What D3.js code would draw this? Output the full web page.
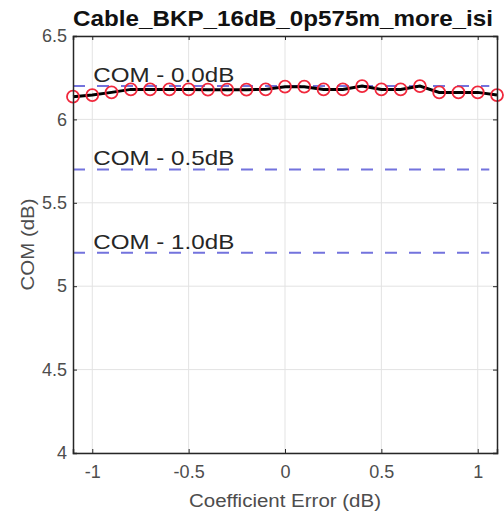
<!DOCTYPE html>
<html>
<head>
<meta charset="utf-8">
<script src="https://cdn.jsdelivr.net/npm/d3@7"></script>
<style>
  body { margin: 0; background: #fff; }
  svg text { font-family: "Liberation Sans", Arial, sans-serif; }
</style>
</head>
<body>
<svg id="chart" width="504" height="516"></svg>
<script>
// Data
const coefError = [-1.1, -1.0, -0.9, -0.8, -0.7, -0.6, -0.5, -0.4, -0.3, -0.2, -0.1,
    0, 0.1, 0.2, 0.3, 0.4, 0.5, 0.6, 0.7, 0.8, 0.9, 1.0, 1.1];
const comValues = [6.136, 6.146, 6.162, 6.18, 6.18, 6.18, 6.18, 6.178, 6.178, 6.178, 6.18,
    6.196, 6.196, 6.18, 6.18, 6.2, 6.18, 6.18, 6.2, 6.162, 6.162, 6.162, 6.146];
const refLevels = [6.2, 5.7, 5.2];
const refLabels = ['COM - 0.0dB', 'COM - 0.5dB', 'COM - 1.0dB'];
const xTicks = [-1, -0.5, 0, 0.5, 1];
const yTicks = [4, 4.5, 5, 5.5, 6, 6.5];

const margin = { left: 73, right: 7, top: 36, bottom: 63 };
const width = 504, height = 516;

const svg = d3.select('#chart');

const x = d3.scaleLinear().domain([-1.1, 1.1]).range([margin.left, width - margin.right]);
const y = d3.scaleLinear().domain([4, 6.5]).range([height - margin.bottom, margin.top]);

// plain hyphen instead of unicode minus, like the original
const fmt = d => String(d);

// Grid
const grid = svg.append('g');
grid.selectAll('line.gx').data(xTicks).join('line')
    .attr('x1', d => x(d)).attr('x2', d => x(d))
    .attr('y1', y(4)).attr('y2', y(6.5))
    .attr('stroke', '#e3e3e3').attr('stroke-width', 1);
grid.selectAll('line.gy').data(yTicks).join('line')
    .attr('y1', d => y(d)).attr('y2', d => y(d))
    .attr('x1', x(-1.1)).attr('x2', x(1.1))
    .attr('stroke', '#e3e3e3').attr('stroke-width', 1);

// Reference dashed lines
svg.append('g').selectAll('line').data(refLevels).join('line')
    .attr('x1', x(-1.1)).attr('x2', x(1.06))
    .attr('y1', d => y(d)).attr('y2', d => y(d))
    .attr('stroke', '#7373dd').attr('stroke-width', 2)
    .attr('stroke-dasharray', '12,12');

svg.append('g').selectAll('text').data(refLevels).join('text')
    .attr('x', x(-1.0) + 1)
    .attr('y', d => y(d) - 4)
    .attr('font-size', 21)
    .attr('textLength', 141)
    .attr('lengthAdjust', 'spacingAndGlyphs')
    .attr('fill', '#262626')
    .text((d, i) => refLabels[i]);

// Data line and markers
const pts = coefError.map((c, i) => [c, comValues[i]]);
svg.append('path')
    .datum(pts)
    .attr('d', d3.line().x(d => x(d[0])).y(d => y(d[1])))
    .attr('fill', 'none').attr('stroke', '#000').attr('stroke-width', 3);

svg.append('g').selectAll('circle').data(pts).join('circle')
    .attr('cx', d => x(d[0])).attr('cy', d => y(d[1]))
    .attr('r', 6)
    .attr('fill', 'none').attr('stroke', '#f0283c').attr('stroke-width', 1.8);

// Axes
const axisColor = '#262626';
const xAxis = svg.append('g')
    .attr('transform', `translate(0,${y(4)})`)
    .call(d3.axisBottom(x).tickValues(xTicks).tickSize(-4).tickPadding(12).tickFormat(fmt));
const xTop = svg.append('g')
    .attr('transform', `translate(0,${y(6.5)})`)
    .call(d3.axisTop(x).tickValues(xTicks).tickSize(-4).tickFormat(''));
const yAxis = svg.append('g')
    .attr('transform', `translate(${x(-1.1)},0)`)
    .call(d3.axisLeft(y).tickValues(yTicks).tickSize(-4).tickPadding(6).tickFormat(fmt));
const yRight = svg.append('g')
    .attr('transform', `translate(${x(1.1)},0)`)
    .call(d3.axisRight(y).tickValues(yTicks).tickSize(-4).tickFormat(''));

[xAxis, xTop, yAxis, yRight].forEach(a => {
    a.select('.domain').attr('stroke', axisColor).attr('stroke-width', 1.5);
    a.selectAll('.tick line').attr('stroke', axisColor);
    a.selectAll('.tick text').attr('fill', '#4d4d4d').attr('font-size', 18)
        .attr('font-family', '"Liberation Sans", Arial, sans-serif');
});

// Title and labels
svg.append('text')
    .attr('x', (x(-1.1) + x(1.1)) / 2 - 2).attr('y', 26)
    .attr('text-anchor', 'middle')
    .attr('font-size', 22).attr('font-weight', 'bold').attr('fill', '#111')
    .attr('textLength', 420)
    .attr('lengthAdjust', 'spacingAndGlyphs')
    .text('Cable_BKP_16dB_0p575m_more_isi');

svg.append('text')
    .attr('x', x(0)).attr('y', 507)
    .attr('text-anchor', 'middle')
    .attr('font-size', 18).attr('fill', '#4d4d4d')
    .attr('textLength', 192)
    .attr('lengthAdjust', 'spacingAndGlyphs')
    .text('Coefficient Error (dB)');

svg.append('text')
    .attr('transform', `translate(34,${(y(4) + y(6.5)) / 2}) rotate(-90)`)
    .attr('text-anchor', 'middle')
    .attr('font-size', 18).attr('fill', '#4d4d4d')
    .attr('textLength', 92)
    .attr('lengthAdjust', 'spacingAndGlyphs')
    .text('COM (dB)');
</script>
</body>
</html>
